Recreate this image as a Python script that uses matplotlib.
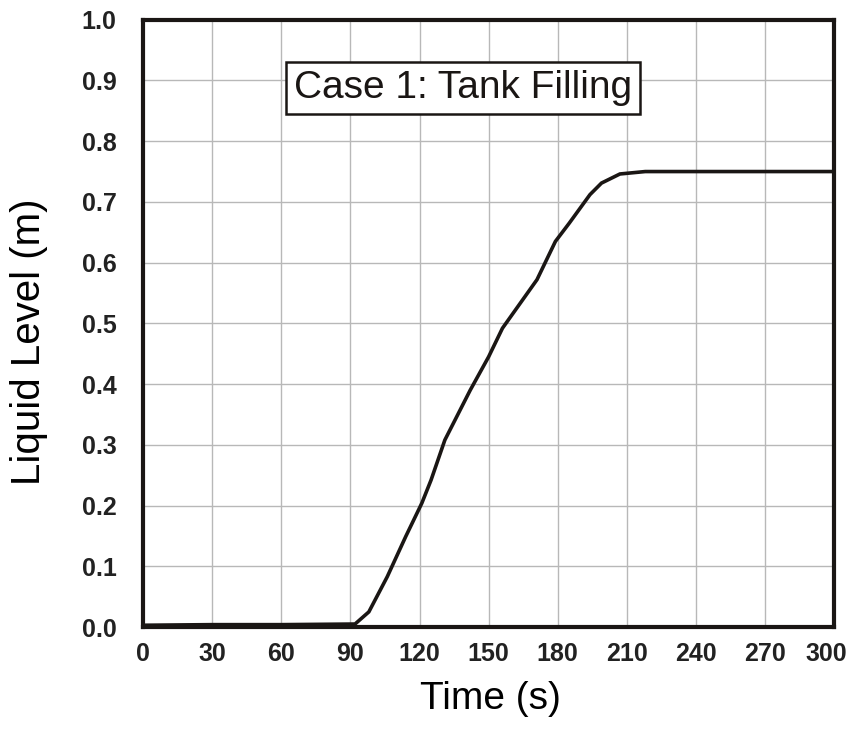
import matplotlib.pyplot as plt
import matplotlib.transforms as mtransforms

plt.rcParams['font.family'] = ['Liberation Sans', 'DejaVu Sans']

# liquid level
time_s = [0, 30, 60, 92, 98, 106, 114, 121, 125, 131, 142, 150, 156, 171, 179, 185, 194, 199, 207, 218, 240, 270, 300]
level_m = [0.003, 0.004, 0.004, 0.005, 0.025, 0.083, 0.149, 0.204, 0.242, 0.308, 0.39, 0.445, 0.492,
           0.572, 0.635, 0.665, 0.712, 0.731, 0.746, 0.75, 0.75, 0.75, 0.75]

xticks = [0, 30, 60, 90, 120, 150, 180, 210, 240, 270, 300]
yticks = [0.0, 0.1, 0.2, 0.3, 0.4, 0.5, 0.6, 0.7, 0.8, 0.9, 1.0]

fig = plt.figure(figsize=(8.52, 7.3), dpi=100)
ax = fig.add_axes([0.168, 0.141, 0.811, 0.832])

ax.plot(time_s, level_m, color='#1a1614', linewidth=2.6, solid_joinstyle='miter')

ax.set_xlim(0, 300)
ax.set_ylim(0, 1.0)
ax.set_xticks(xticks)
ax.set_yticks(yticks)
ax.set_yticklabels(['{:.1f}'.format(v) for v in yticks])
ax.tick_params(length=0, labelsize=18)
ax.tick_params(axis='x', pad=11)
ax.tick_params(axis='y', pad=19)
for lab in ax.get_xticklabels() + ax.get_yticklabels():
    lab.set_fontweight('bold')
    lab.set_color('#222222')

# the last x label sits a little left of the right edge
last = ax.get_xticklabels()[-1]
last.set_transform(last.get_transform() + mtransforms.ScaledTranslation(-8 / 100, 0, fig.dpi_scale_trans))

ax.grid(True, color='#b8b8b8', linewidth=1.0)
ax.set_axisbelow(True)
for s in ax.spines.values():
    s.set_linewidth(3.0)
    s.set_color('#1a1614')

ax.set_xlabel('Time (s)', fontsize=28)
ax.xaxis.set_label_coords(0.502, -0.088)
ax.set_ylabel('Liquid Level (m)', fontsize=29)
ax.yaxis.set_label_coords(-0.137, 0.47)

ax.text(139, 0.888, 'Case 1: Tank Filling', fontsize=28, ha='center', va='center', color='#1a1614',
        bbox=dict(boxstyle='square,pad=0.2', facecolor='white', edgecolor='#1a1614', linewidth=1.8))

fig.savefig('out.png', dpi=100)
